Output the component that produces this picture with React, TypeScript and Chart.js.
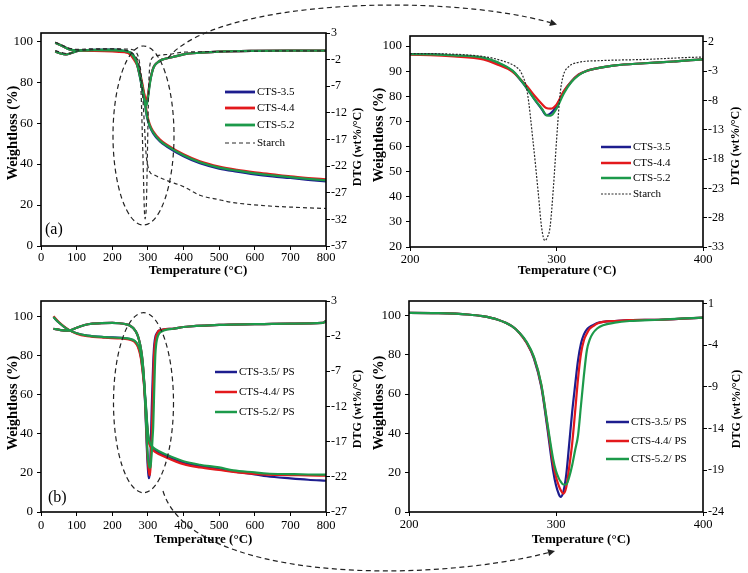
import React, { useEffect, useRef } from "react";
import { Chart, registerables } from "chart.js";
Chart.register(...registerables);

const FONT = '"Liberation Serif", "Times New Roman", serif';
const BLUE = "#1d1d8e";
const RED = "#e3191c";
const GREEN = "#1c9a4a";
const STARCH = "#2b2b2b";

// ---------- Panel (a): CTS / starch ----------
const tempTG_A = [40, 60, 80, 100, 150, 200, 240, 250, 260, 270, 280, 290, 297, 305, 315, 334, 353, 400, 446, 500, 550, 600, 650, 700, 750, 800];
const tgA_35 = [99.2, 97.6, 96.0, 95.5, 95.6, 95.5, 95.0, 94.5, 93, 89, 82, 72, 63.5, 58.5, 55, 51, 48.6, 43.8, 40.4, 37.8, 36.3, 35.0, 34.0, 33.2, 32.3, 31.5];
const tgA_44 = [99.2, 97.6, 96.0, 95.3, 95.2, 95.0, 94.5, 94.0, 92.8, 89.5, 83, 74, 65, 59.5, 56, 52, 49.5, 44.8, 41.4, 38.8, 37.2, 36.0, 35.0, 34.0, 33.2, 32.5];
const tgA_52 = [99.2, 97.6, 96.0, 95.5, 95.6, 95.5, 95.0, 94.5, 93, 89, 82, 72, 63.8, 58.8, 55.4, 51.4, 49, 44.3, 40.9, 38.3, 36.8, 35.5, 34.5, 33.6, 32.8, 32.0];
const tempTG_Starch = [40, 60, 80, 100, 150, 200, 250, 265, 275, 283, 290, 295, 300, 306, 320, 353, 400, 446, 500, 540, 633, 700, 800];
const tgStarch = [99.5, 98, 96.5, 96, 96.3, 96.3, 96, 95, 91, 80, 60, 45, 39, 36, 34.5, 32, 29, 24.8, 22.6, 21.2, 19.6, 19, 18.3];

const tempDTG_A = [40, 55, 70, 85, 100, 120, 150, 200, 230, 250, 260, 270, 275, 280, 285, 290, 293, 296, 300, 305, 310, 315, 320, 330, 340, 360, 380, 400, 450, 500, 600, 700, 800];
const dtgA_35 = [-0.46, -0.85, -1.04, -0.77, -0.4, -0.23, -0.15, -0.1, -0.35, -0.8, -1.6, -3.0, -4.4, -6.0, -7.8, -9.5, -10.5, -10.2, -9.0, -6.5, -4.8, -3.6, -3.0, -2.4, -2.0, -1.65, -1.35, -1.0, -0.7, -0.5, -0.35, -0.3, -0.3];
const dtgA_44 = [-0.46, -0.85, -1.04, -0.77, -0.4, -0.25, -0.2, -0.2, -0.5, -1.0, -1.9, -3.1, -4.3, -5.6, -7.2, -8.6, -9.3, -9.4, -8.7, -6.4, -4.8, -3.6, -3.0, -2.4, -2.0, -1.65, -1.35, -1.0, -0.7, -0.5, -0.35, -0.3, -0.3];
const dtgA_52 = [-0.46, -0.85, -1.04, -0.77, -0.4, -0.23, -0.15, -0.1, -0.3, -0.7, -1.5, -2.9, -4.3, -6.0, -7.8, -9.4, -10.5, -10.6, -9.4, -6.8, -4.9, -3.7, -3.0, -2.4, -2.0, -1.65, -1.35, -1.0, -0.7, -0.5, -0.35, -0.3, -0.3];
const tempDTG_Starch = [40, 60, 75, 100, 150, 200, 250, 265, 272, 276, 280, 284, 287.6, 289.8, 292, 294, 295.6, 297.9, 300.2, 302.5, 304.7, 308, 315, 330, 360, 400, 500, 600, 800];
const dtgStarch = [-0.3, -0.7, -0.9, -0.4, -0.1, 0.0, -0.5, -1.4, -2.2, -3.3, -6.5, -15, -23.9, -29.6, -31.9, -31.2, -29.6, -22.8, -14.2, -6.8, -3.7, -2.3, -1.5, -1.2, -1.0, -0.6, -0.5, -0.4, -0.35];

// ---------- Panel (b): CTS / PS ----------
const tempTG_B = [35, 50, 75, 100, 130, 180, 225, 250, 263, 272, 280, 288, 294, 300, 304, 310, 320, 353, 400, 446, 500, 540, 600, 634, 700, 750, 800];
const tgB_35 = [99.8, 97, 93.5, 91.5, 90.3, 89.5, 89.1, 88.5, 87.4, 85, 80, 68, 55, 40, 35.5, 33.2, 31.5, 28.6, 25.2, 23.5, 22, 20.8, 19.3, 18.3, 17.2, 16.5, 16.0];
const tgB_44 = [100.2, 97.2, 93.6, 91.3, 90, 89.2, 88.8, 88.2, 87, 84.5, 79, 67, 54, 39, 35, 32.6, 30.8, 27.8, 24.5, 22.8, 21.5, 20.5, 19.5, 19.1, 18.9, 18.7, 18.6];
const tgB_52 = [99.8, 97, 93.5, 91.5, 90.3, 89.5, 89.1, 88.6, 87.6, 85.5, 81, 69, 56, 41, 36.5, 34, 32.3, 29.3, 26, 24.2, 22.8, 21.3, 20.3, 19.7, 19.4, 19.2, 19.1];

const tempDTG_B = [35, 55, 76, 100, 132, 170, 200, 220, 240, 250, 260, 270, 275, 280, 285, 290, 294, 298, 300, 302, 303, 305, 307, 309, 311, 313, 315, 317, 319, 321, 323, 325, 328, 332, 340, 350, 370, 400, 500, 600, 700, 790, 800];
const dtgB_35 = [-0.94, -1.13, -1.2, -0.8, -0.3, -0.15, -0.12, -0.16, -0.32, -0.52, -0.92, -1.72, -2.5, -3.7, -5.6, -9.0, -13.8, -19.0, -20.8, -21.9, -22.2, -21.6, -19.5, -15.8, -12.0, -8.8, -5.8, -3.8, -2.7, -2.1, -1.8, -1.6, -1.35, -1.2, -1.1, -1.0, -0.95, -0.7, -0.4, -0.3, -0.22, -0.12, 0.15];
const dtgB_44 = [-0.94, -1.13, -1.2, -0.8, -0.3, -0.15, -0.12, -0.16, -0.32, -0.52, -0.92, -1.72, -2.5, -3.7, -5.5, -8.8, -13.4, -18.2, -19.8, -20.9, -21.3, -21.8, -21.0, -18.6, -15.8, -12.0, -8.0, -5.0, -3.4, -2.6, -2.0, -1.75, -1.4, -1.2, -1.1, -1.0, -0.95, -0.7, -0.4, -0.3, -0.22, -0.12, 0.15];
const dtgB_52 = [-0.94, -1.13, -1.2, -0.8, -0.3, -0.15, -0.12, -0.16, -0.32, -0.52, -0.92, -1.72, -2.5, -3.6, -5.4, -8.7, -13.2, -17.6, -19.1, -20.0, -20.3, -20.7, -20.7, -19.8, -18.4, -16.6, -14.8, -11.2, -7.6, -4.6, -3.3, -2.6, -2.0, -1.6, -1.3, -1.1, -0.95, -0.7, -0.4, -0.3, -0.22, -0.12, 0.15];

// ---------- ticks ----------
const xTicksFull = [0, 100, 200, 300, 400, 500, 600, 700, 800];
const xTicksZoom = [200, 300, 400];
const yTicksA_L = [0, 20, 40, 60, 80, 100];
const yTicksA_R = [3, -2, -7, -12, -17, -22, -27, -32, -37];
const yTicksAz_L = [20, 30, 40, 50, 60, 70, 80, 90, 100];
const yTicksAz_R = [2, -3, -8, -13, -18, -23, -28, -33];
const yTicksB_L = [0, 20, 40, 60, 80, 100];
const yTicksB_R = [3, -2, -7, -12, -17, -22, -27];
const yTicksBz_L = [0, 20, 40, 60, 80, 100];
const yTicksBz_R = [1, -4, -9, -14, -19, -24];

const labelsA = ["CTS-3.5", "CTS-4.4", "CTS-5.2", "Starch"];
const labelsB = ["CTS-3.5/ PS", "CTS-4.4/ PS", "CTS-5.2/ PS"];

const W = 748;
const H = 573;

const pts = (xs: number[], ys: number[]) => xs.map((x, i) => ({ x, y: ys[i] }));

function line(xs: number[], ys: number[], color: string, axis: string, dash?: number[], width = 2.2) {
  return {
    data: pts(xs, ys),
    borderColor: color,
    borderWidth: width,
    borderDash: dash || [],
    pointRadius: 0,
    cubicInterpolationMode: "monotone",
    yAxisID: axis,
    fill: false,
  };
}

type LegendItem = { label: string; color: string; dash?: number[]; width: number };

type PanelCfg = {
  area: { l: number; t: number; r: number; b: number };
  x: { min: number; max: number; ticks: number[] };
  yl: { min: number; max: number; ticks: number[] };
  yr: { min: number; max: number; ticks: number[] };
  datasets: any[];
  titles: { yl: [number, number]; yr: [number, number]; x: [number, number] };
  legend: { x1: number; x2: number; tx: number; ys: number[]; items: LegendItem[] };
  tag?: { text: string; x: number; y: number };
  xLabelPad: number;
};

function drawText(ctx: CanvasRenderingContext2D, text: string, x: number, y: number, font: string, rotate = false, align: CanvasTextAlign = "center") {
  ctx.save();
  ctx.translate(x, y);
  if (rotate) ctx.rotate(-Math.PI / 2);
  ctx.font = font;
  ctx.fillStyle = "#000";
  ctx.textAlign = align;
  ctx.textBaseline = "middle";
  ctx.fillText(text, 0, 0);
  ctx.restore();
}

function makeDecor(cfg: PanelCfg) {
  return {
    id: "decor",
    afterDraw(chart: any) {
      const ctx: CanvasRenderingContext2D = chart.ctx;
      const a = chart.chartArea;
      ctx.save();
      ctx.strokeStyle = "#000";
      ctx.lineWidth = 1.6;
      ctx.setLineDash([]);
      ctx.strokeRect(a.left, a.top, a.right - a.left, a.bottom - a.top);
      drawText(ctx, "Weightloss (%)", cfg.titles.yl[0], cfg.titles.yl[1], `bold 14.5px ${FONT}`, true);
      drawText(ctx, "DTG (wt%/\u00B0C)", cfg.titles.yr[0], cfg.titles.yr[1], `bold 12px ${FONT}`, true);
      drawText(ctx, "Temperature (\u00B0C)", cfg.titles.x[0], cfg.titles.x[1], `bold 13px ${FONT}`);
      if (cfg.tag) drawText(ctx, cfg.tag.text, cfg.tag.x, cfg.tag.y, `16px ${FONT}`, false, "left");
      const lg = cfg.legend;
      lg.items.forEach((it, i) => {
        const y = lg.ys[i];
        ctx.beginPath();
        ctx.strokeStyle = it.color;
        ctx.lineWidth = it.width;
        ctx.setLineDash(it.dash || []);
        ctx.moveTo(lg.x1, y);
        ctx.lineTo(lg.x2, y);
        ctx.stroke();
        ctx.setLineDash([]);
        drawText(ctx, it.label, lg.tx, y, `11px ${FONT}`, false, "left");
      });
      ctx.restore();
    },
  };
}

function yAxis(spec: { min: number; max: number; ticks: number[] }, position: string, width: number, size: number, pad: number) {
  return {
    type: "linear",
    position,
    min: spec.min,
    max: spec.max,
    afterBuildTicks: (s: any) => {
      s.ticks = spec.ticks.map((v) => ({ value: v }));
    },
    afterFit: (s: any) => {
      s.width = width;
    },
    grid: { drawOnChartArea: false, drawTicks: true, tickLength: 4, color: "#000", lineWidth: 1 },
    border: { display: false },
    ticks: { autoSkip: false, font: { family: FONT, size }, color: "#000", padding: pad, callback: (v: any) => String(v) },
  };
}

function Panel({ cfg }: { cfg: PanelCfg }) {
  const ref = useRef<HTMLCanvasElement>(null);
  useEffect(() => {
    if (!ref.current) return;
    const wL = 40;
    const wR = 40;
    const hX = 35;
    const a = cfg.area;
    const chart = new Chart(ref.current, {
      type: "line",
      data: { datasets: cfg.datasets },
      options: {
        responsive: false,
        animation: false,
        events: [],
        layout: { padding: { left: a.l - wL, top: a.t, right: W - a.r - wR, bottom: H - a.b - hX } },
        plugins: { legend: { display: false }, tooltip: { enabled: false } },
        scales: {
          x: {
            type: "linear",
            min: cfg.x.min,
            max: cfg.x.max,
            afterBuildTicks: (s: any) => {
              s.ticks = cfg.x.ticks.map((v) => ({ value: v }));
            },
            afterFit: (s: any) => {
              s.height = hX;
            },
            grid: { drawOnChartArea: false, drawTicks: true, tickLength: 4, color: "#000", lineWidth: 1 },
            border: { display: false },
            ticks: { autoSkip: false, maxRotation: 0, font: { family: FONT, size: 12.5 }, color: "#000", padding: cfg.xLabelPad, callback: (v: any) => String(v) },
          },
          y: yAxis(cfg.yl, "left", wL, 13, 4),
          y2: yAxis(cfg.yr, "right", wR, 12, 1),
        },
      } as any,
      plugins: [makeDecor(cfg)],
    });
    return () => chart.destroy();
  }, [cfg]);
  return <canvas ref={ref} width={W} height={H} style={{ position: "absolute", left: 0, top: 0 }} />;
}

const legendA: LegendItem[] = [
  { label: labelsA[0], color: BLUE, width: 2.8 },
  { label: labelsA[1], color: RED, width: 2.8 },
  { label: labelsA[2], color: GREEN, width: 2.8 },
  { label: labelsA[3], color: STARCH, width: 1.2, dash: [4, 3] },
];
const legendAz: LegendItem[] = [
  { label: labelsA[0], color: BLUE, width: 2.5 },
  { label: labelsA[1], color: RED, width: 2.5 },
  { label: labelsA[2], color: GREEN, width: 2.5 },
  { label: labelsA[3], color: STARCH, width: 1.2, dash: [2, 1.5] },
];
const legendB: LegendItem[] = [
  { label: labelsB[0], color: BLUE, width: 2.5 },
  { label: labelsB[1], color: RED, width: 2.5 },
  { label: labelsB[2], color: GREEN, width: 2.5 },
];

// Chart.js paints the first dataset on top, so the list goes top -> bottom.
const panelAL: PanelCfg = {
  area: { l: 41, t: 33, r: 326, b: 246 },
  x: { min: 0, max: 800, ticks: xTicksFull },
  yl: { min: 0, max: 104, ticks: yTicksA_L },
  yr: { min: -37, max: 3, ticks: yTicksA_R },
  datasets: [
    line(tempTG_Starch, tgStarch, STARCH, "y", [4, 3], 1.2),
    line(tempDTG_Starch, dtgStarch, STARCH, "y2", [4, 3], 1.2),
    line(tempDTG_A, dtgA_52, GREEN, "y2"),
    line(tempTG_A, tgA_52, GREEN, "y"),
    line(tempDTG_A, dtgA_44, RED, "y2"),
    line(tempTG_A, tgA_44, RED, "y"),
    line(tempDTG_A, dtgA_35, BLUE, "y2"),
    line(tempTG_A, tgA_35, BLUE, "y"),
  ],
  titles: { yl: [13, 133], yr: [358, 147], x: [198, 271] },
  legend: { x1: 225, x2: 255, tx: 257, ys: [92, 108, 125, 143], items: legendA },
  tag: { text: "(a)", x: 45, y: 230 },
  xLabelPad: 0,
};

const panelAR: PanelCfg = {
  area: { l: 410, t: 36, r: 703, b: 247 },
  x: { min: 200, max: 400, ticks: xTicksZoom },
  yl: { min: 20, max: 104, ticks: yTicksAz_L },
  yr: { min: -33, max: 3, ticks: yTicksAz_R },
  datasets: [
    line(tempDTG_Starch, dtgStarch, STARCH, "y2", [2, 1.5], 1.2),
    line(tempDTG_A, dtgA_52, GREEN, "y2"),
    line(tempDTG_A, dtgA_44, RED, "y2"),
    line(tempDTG_A, dtgA_35, BLUE, "y2"),
  ],
  titles: { yl: [379, 135], yr: [736, 146], x: [567, 271] },
  legend: { x1: 601, x2: 631, tx: 633, ys: [147, 163, 178, 194], items: legendAz },
  xLabelPad: 1,
};

const panelBL: PanelCfg = {
  area: { l: 41, t: 301, r: 326, b: 512 },
  x: { min: 0, max: 800, ticks: xTicksFull },
  yl: { min: 0, max: 108, ticks: yTicksB_L },
  yr: { min: -27, max: 3, ticks: yTicksB_R },
  datasets: [
    line(tempDTG_B, dtgB_52, GREEN, "y2"),
    line(tempTG_B, tgB_52, GREEN, "y"),
    line(tempDTG_B, dtgB_44, RED, "y2"),
    line(tempTG_B, tgB_44, RED, "y"),
    line(tempDTG_B, dtgB_35, BLUE, "y2"),
    line(tempTG_B, tgB_35, BLUE, "y"),
  ],
  titles: { yl: [13, 403], yr: [358, 409], x: [203, 540] },
  legend: { x1: 215, x2: 237, tx: 239, ys: [372, 392, 412], items: legendB },
  tag: { text: "(b)", x: 48, y: 498 },
  xLabelPad: 2,
};

const panelBR: PanelCfg = {
  area: { l: 409, t: 301, r: 703, b: 512 },
  x: { min: 200, max: 400, ticks: xTicksZoom },
  yl: { min: 0, max: 107.3, ticks: yTicksBz_L },
  yr: { min: -24, max: 1.3, ticks: yTicksBz_R },
  datasets: [
    line(tempDTG_B, dtgB_52, GREEN, "y2"),
    line(tempDTG_B, dtgB_44, RED, "y2"),
    line(tempDTG_B, dtgB_35, BLUE, "y2"),
  ],
  titles: { yl: [379, 403], yr: [737, 409], x: [581, 540] },
  legend: { x1: 606, x2: 629, tx: 631, ys: [422, 441, 459], items: legendB },
  xLabelPad: 1,
};

export default function App() {
  const dash = { fill: "none", stroke: "#222", strokeWidth: 1.2, strokeDasharray: "5 3.5" };
  return (
    <div style={{ position: "absolute", left: 0, top: 0, width: W, height: H, background: "#fff", overflow: "hidden" }}>
      <Panel cfg={panelAL} />
      <Panel cfg={panelAR} />
      <Panel cfg={panelBL} />
      <Panel cfg={panelBR} />
      <svg width={W} height={H} style={{ position: "absolute", left: 0, top: 0, pointerEvents: "none" }}>
        <ellipse cx={143.5} cy={135.5} rx={30.5} ry={89.5} {...dash} />
        <ellipse cx={143.5} cy={402.7} rx={30} ry={90} {...dash} />
        <path d="M168,58 C215,0 440,-8 550.3,22.6" {...dash} />
        <polygon points="557,24.5 551.2,19.3 549.3,26" fill="#222" />
        <path d="M163,491 C190,580 420,585 548.2,552.7" {...dash} />
        <polygon points="555,551 549.1,556.1 547.4,549.3" fill="#222" />
      </svg>
    </div>
  );
}
